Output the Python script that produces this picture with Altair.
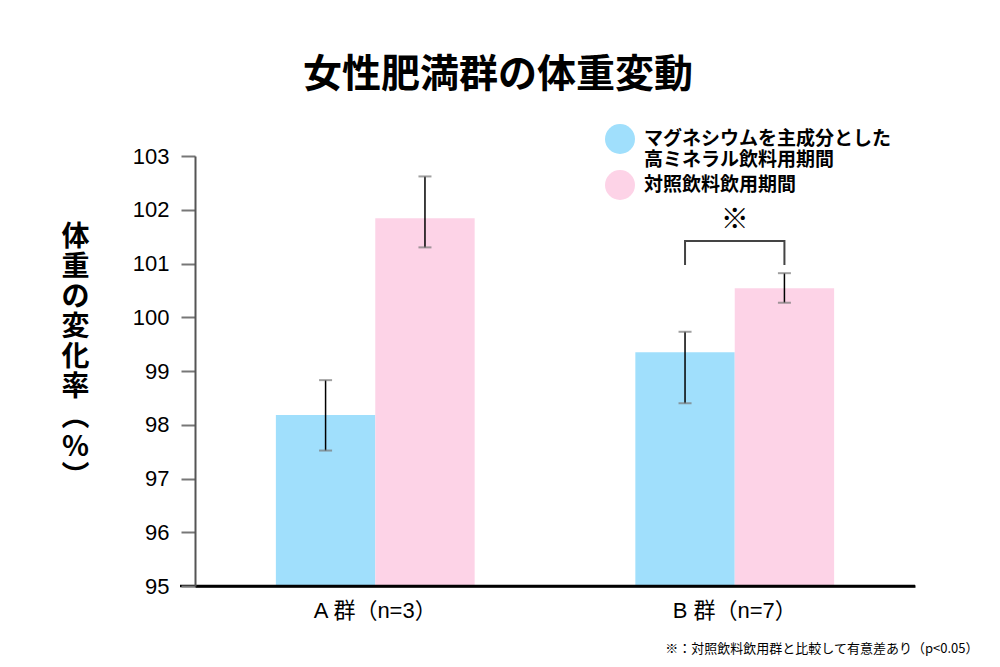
import altair as alt
import pandas as pd

# ---- data ----
groups = ["A 群（n=3）", "B 群（n=7）"]
series = ["マグネシウムを主成分とした\n高ミネラル飲料用期間", "対照飲料飲用期間"]
means_mg = [98.18, 99.35]
means_ctrl = [101.84, 100.54]
lo_mg = [97.52, 98.40]
hi_mg = [98.83, 99.73]
lo_ctrl = [101.30, 100.27]
hi_ctrl = [102.62, 100.82]

bracket_group = "B 群（n=7）"
bracket_top = 101.42
bracket_leg = 100.97
star_y = 101.80

colors = ["#A0DFFC", "#FDD3E7"]
FONT = "'Liberation Sans', 'Noto Sans CJK JP', sans-serif"
JFONT = "'Noto Sans CJK JP', sans-serif"

rows = []
for i, g in enumerate(groups):
    rows.append({"group": g, "series": series[0], "mean": means_mg[i], "lo": lo_mg[i], "hi": hi_mg[i]})
    rows.append({"group": g, "series": series[1], "mean": means_ctrl[i], "lo": lo_ctrl[i], "hi": hi_ctrl[i]})
df = pd.DataFrame(rows)

bracket = pd.DataFrame({
    "group": [bracket_group] * 4,
    "series": [series[0], series[0], series[1], series[1]],
    "y": [bracket_leg, bracket_top, bracket_top, bracket_leg],
    "ord": [0, 1, 2, 3],
})
star = pd.DataFrame({"group": [bracket_group], "y": [star_y], "t": ["※"]})

W, H = 720, 430

xenc = alt.X(
    "group:N", sort=groups,
    scale=alt.Scale(paddingInner=0.447, paddingOuter=0.225),
    axis=alt.Axis(
        title="※：対照飲料飲用群と比較して有意差あり（p<0.05）",
        titleFont=JFONT, titleFontSize=13, titleFontWeight="normal", titleColor="#000",
        titleAnchor="end", titleAlign="right", titleX=783, titleY=62, titleBaseline="middle",
        labelAngle=0, labelFont=FONT, labelFontSize=22, labelColor="#000", labelPadding=14,
        ticks=False, domainColor="#000", domainWidth=2.5, zindex=1,
    ),
)
xoff = alt.XOffset("series:N", sort=series, scale=alt.Scale(paddingInner=0, paddingOuter=0))
yscale = alt.Scale(domain=[95, 103], nice=False, zero=False, clamp=True)
yaxis = alt.Axis(
    values=list(range(95, 104)),
    title=["体", "重", "の", "変", "化", "率", "︵", "%", "︶"],
    titleAngle=0, titleFont=JFONT, titleFontSize=28, titleFontWeight="bold", titleColor="#000",
    titleLineHeight=30, titleX=-120, titleY=67, titleAlign="center", titleBaseline="top",
    labelFont=FONT, labelFontSize=22, labelColor="#000", labelPadding=12,
    tickColor="#777", tickWidth=2, tickSize=14,
    domainColor="#555", domainWidth=2, grid=False, zindex=1,
)

bars = alt.Chart(df).mark_bar().encode(
    x=xenc,
    xOffset=xoff,
    y=alt.Y("mean:Q", scale=yscale, axis=yaxis),
    color=alt.Color(
        "series:N", sort=series,
        scale=alt.Scale(domain=series, range=colors),
        legend=alt.Legend(
            title=None, orient="none", legendX=410, legendY=-32,
            symbolType="circle", symbolSize=900, symbolStrokeWidth=0, symbolOpacity=1,
            labelFont=JFONT, labelFontSize=19, labelFontWeight="bold", labelColor="#000",
            labelLimit=400, labelOffset=9, rowPadding=0,
            labelExpr="split(datum.label, '\\n')",
        ),
    ),
)

err = alt.Chart(df).mark_rule(color="#000", strokeWidth=1.5).encode(
    x=alt.X("group:N", sort=groups), xOffset=xoff,
    y=alt.Y("lo:Q", scale=yscale), y2="hi:Q",
)
cap_lo = alt.Chart(df).mark_tick(color="#777", size=13, thickness=2, orient="horizontal").encode(
    x=alt.X("group:N", sort=groups), xOffset=xoff, y=alt.Y("lo:Q", scale=yscale),
)
cap_hi = alt.Chart(df).mark_tick(color="#777", size=13, thickness=2, orient="horizontal").encode(
    x=alt.X("group:N", sort=groups), xOffset=xoff, y=alt.Y("hi:Q", scale=yscale),
)
br = alt.Chart(bracket).mark_line(color="#444", strokeWidth=2).encode(
    x=alt.X("group:N", sort=groups), xOffset=xoff,
    y=alt.Y("y:Q", scale=yscale), order="ord:Q",
)
st = alt.Chart(star).mark_text(font=JFONT, fontSize=28, color="#000", baseline="middle").encode(
    x=alt.X("group:N", sort=groups), y=alt.Y("y:Q", scale=yscale), text="t:N",
)
base_line = alt.Chart(star).mark_rule(color="#000", strokeWidth=2.5).encode(
    x=alt.value(-15), x2=alt.value(W), y=alt.YDatum(95, scale=yscale),
)

chart = alt.layer(bars, err, cap_lo, cap_hi, br, st, base_line).properties(
    width=W, height=H,
    background="white",
    title=alt.TitleParams(
        "女性肥満群の体重変動", font=JFONT, fontSize=39, fontWeight="bold", color="#000",
        anchor="middle", dx=-57, dy=72, baseline="bottom", offset=62,
    ),
    autosize=alt.AutoSizeParams(type="none"),
    padding={"left": 187, "top": 148, "right": 77, "bottom": 73},
).configure_view(strokeWidth=0, stroke=None)

chart.save("out.html", embed_options={"renderer": "svg", "actions": False})
